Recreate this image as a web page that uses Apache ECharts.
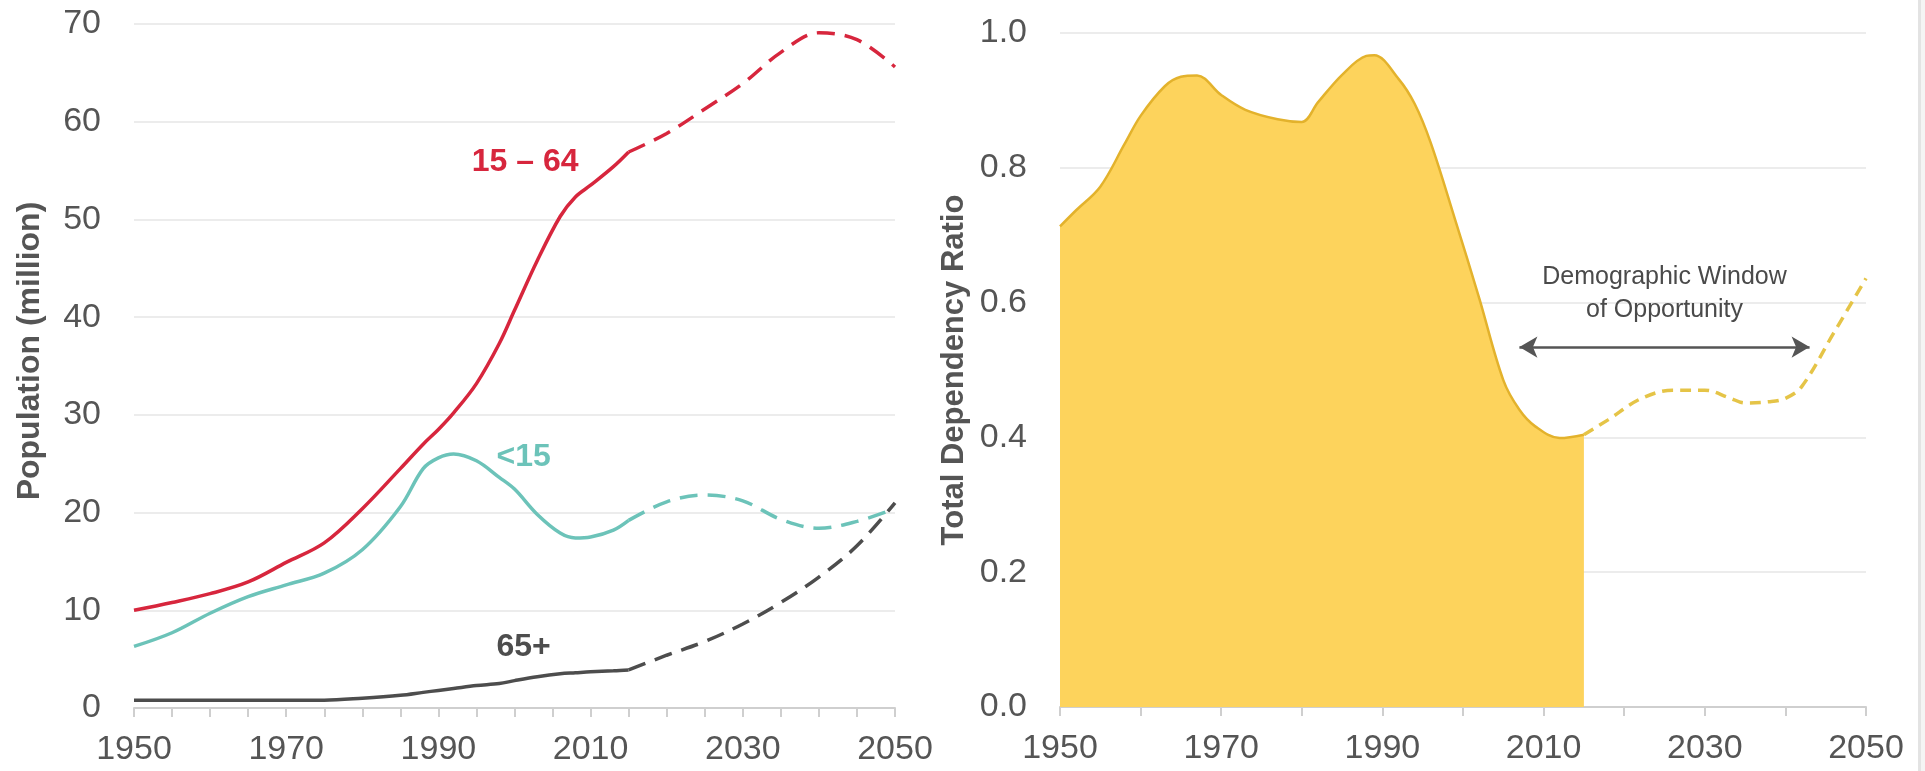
<!DOCTYPE html>
<html>
<head>
<meta charset="utf-8">
<title>Population and dependency ratio</title>
<script src="https://cdn.jsdelivr.net/npm/echarts@6/dist/echarts.min.js"></script>
<style>
    html, body { margin: 0; padding: 0; background: #fff; }
    #main { width: 1925px; height: 771px; }
</style>
</head>
<body>
<div id="main"></div>
<script>
// population by age group, million (solid = estimates, dashed = projection)
var popHistYears = [1950,1955,1960,1965,1970,1975,1980,1985,1988,1990,1992,1995,1998,2000,2003,2006,2008,2010,2013,2015];
var popProjYears = [2015,2020,2025,2030,2035,2040,2045,2050];

var workHist  = [10.0,10.8,11.7,12.9,14.9,16.9,20.4,24.5,27.0,28.5,30.2,33.2,37.3,40.7,45.8,50.3,52.3,53.5,55.4,56.9];
var workProj  = [56.9,58.8,61.3,63.9,67.1,69.1,68.4,65.6];
var childHist = [6.3,7.7,9.7,11.4,12.6,13.8,16.2,20.6,24.5,25.6,26.0,25.3,23.6,22.4,19.8,17.9,17.4,17.5,18.2,19.2];
var childProj = [19.2,21.1,21.8,21.2,19.3,18.4,19.1,20.4];
var oldHist   = [0.8,0.8,0.8,0.8,0.8,0.8,1.0,1.3,1.6,1.8,2.0,2.3,2.5,2.8,3.2,3.5,3.6,3.7,3.8,3.9];
var oldProj   = [3.9,5.4,6.8,8.6,10.8,13.4,16.6,21.0];

// total dependency ratio
var ratioHistYears = [1950,1952,1955,1958,1960,1963,1965,1967,1970,1973,1977,1980,1982,1985,1988,1989,1992,1994,1996,1999,2002,2005,2007,2009,2012,2015];
var ratioHist      = [0.713,0.737,0.772,0.835,0.877,0.921,0.935,0.937,0.908,0.886,0.872,0.868,0.897,0.938,0.966,0.967,0.932,0.895,0.837,0.724,0.607,0.485,0.441,0.416,0.399,0.404];
var ratioProjYears = [2015,2018,2022,2026,2030,2033,2035,2038,2040,2042,2046,2050];
var ratioProj      = [0.404,0.426,0.457,0.470,0.470,0.459,0.451,0.453,0.458,0.475,0.555,0.636];

var windowYears = [2007, 2043];
var windowLevel = 0.534;

function pair(xs, ys) {
    var out = [];
    for (var i = 0; i < xs.length; i++) {
        out.push([xs[i], ys[i]]);
    }
    return out;
}

var normalFont = "'Liberation Sans',Arial,sans-serif";
var textGray = '#555555';

function xAxisFor(gridIdx, minorSplit) {
    return {
        type: 'value',
        gridIndex: gridIdx,
        min: 1950,
        max: 2050,
        interval: 20,
        axisLine: { show: true, lineStyle: { color: '#cfcfcf', width: 2 } },
        axisTick: { show: true, length: 9, lineStyle: { color: '#cfcfcf', width: 2 } },
        minorTick: { show: true, splitNumber: minorSplit, length: 9, lineStyle: { color: '#cfcfcf', width: 2 } },
        splitLine: { show: false },
        axisLabel: {
            color: textGray,
            fontFamily: normalFont,
            fontSize: 34,
            margin: 25,
            formatter: function (v) { return String(v); }
        }
    };
}

function lineSeries(name, data, color, dashed, xi, yi) {
    return {
        name: name,
        type: 'line',
        xAxisIndex: xi,
        yAxisIndex: yi,
        data: data,
        smooth: 0.35,
        showSymbol: false,
        silent: true,
        lineStyle: {
            color: color,
            width: 3.5,
            type: dashed ? [18, 10] : 'solid'
        },
        z: 3
    };
}

var myChart = echarts.init(document.getElementById('main'));

var option = {
    backgroundColor: '#ffffff',
    animation: false,
    grid: [
        { left: 134, right: 1030, top: 24, bottom: 63 },
        { left: 1060, right: 59, top: 33, bottom: 64 }
    ],
    xAxis: [ xAxisFor(0, 4), xAxisFor(1, 2) ],
    yAxis: [
        {
            type: 'value',
            gridIndex: 0,
            min: 0,
            max: 70,
            interval: 10,
            name: 'Population (million)',
            nameLocation: 'middle',
            nameRotate: 90,
            nameGap: 88,
            nameTextStyle: { color: textGray, fontFamily: normalFont, fontWeight: 'bold', fontSize: 32, padding: [0, 0, 0, 30] },
            axisLine: { show: false },
            axisTick: { show: false },
            splitLine: { show: true, lineStyle: { color: '#ececec', width: 2 } },
            axisLabel: { color: textGray, fontFamily: normalFont, fontSize: 34, margin: 33 }
        },
        {
            type: 'value',
            gridIndex: 1,
            min: 0,
            max: 1,
            interval: 0.2,
            name: 'Total Dependency Ratio',
            nameLocation: 'middle',
            nameRotate: 90,
            nameGap: 90,
            nameTextStyle: { color: textGray, fontFamily: normalFont, fontWeight: 'bold', fontSize: 31 },
            axisLine: { show: false },
            axisTick: { show: false },
            splitLine: { show: true, lineStyle: { color: '#ececec', width: 2 } },
            axisLabel: {
                color: textGray,
                fontFamily: normalFont,
                fontSize: 34,
                margin: 33,
                formatter: function (v) { return v.toFixed(1); }
            }
        }
    ],
    series: [
        lineSeries('15 – 64', pair(popHistYears, workHist), '#D7263D', false, 0, 0),
        lineSeries('15 – 64 projection', pair(popProjYears, workProj), '#D7263D', true, 0, 0),
        lineSeries('<15', pair(popHistYears, childHist), '#6CC3B9', false, 0, 0),
        lineSeries('<15 projection', pair(popProjYears, childProj), '#6CC3B9', true, 0, 0),
        lineSeries('65+', pair(popHistYears, oldHist), '#4D4D4D', false, 0, 0),
        lineSeries('65+ projection', pair(popProjYears, oldProj), '#4D4D4D', true, 0, 0),
        {
            name: 'Total Dependency Ratio',
            type: 'line',
            xAxisIndex: 1,
            yAxisIndex: 1,
            data: pair(ratioHistYears, ratioHist),
            smooth: 0.35,
            showSymbol: false,
            silent: true,
            lineStyle: { color: '#E3B22C', width: 2.5 },
            areaStyle: { color: '#FDD35C', opacity: 1 },
            z: 2
        },
        {
            name: 'Total Dependency Ratio projection',
            type: 'line',
            xAxisIndex: 1,
            yAxisIndex: 1,
            data: pair(ratioProjYears, ratioProj),
            smooth: 0.35,
            showSymbol: false,
            silent: true,
            lineStyle: { color: '#E5C447', width: 3.5, type: [11, 7] },
            markLine: {
                silent: true,
                symbol: ['arrow', 'arrow'],
                symbolSize: [16, 18],
                lineStyle: { color: '#555555', width: 2.5, type: 'solid' },
                label: {
                    show: true,
                    position: 'middle',
                    distance: 20,
                    formatter: 'Demographic Window\nof Opportunity',
                    color: '#4a4a4a',
                    fontFamily: normalFont,
                    fontSize: 25,
                    lineHeight: 33,
                    align: 'center'
                },
                data: [
                    [ { coord: [windowYears[0], windowLevel] }, { coord: [windowYears[1], windowLevel] } ]
                ]
            },
            z: 3
        }
    ]
};
myChart.setOption(option);

// in-chart series labels, placed in data space
var seriesTags = [
    { text: '15 – 64', at: [2001.4, 55.9], color: '#D7263D' },
    { text: '<15', at: [2001.2, 25.7], color: '#6CC3B9' },
    { text: '65+', at: [2001.2, 6.2], color: '#4D4D4D' }
];
var graphics = [];
for (var i = 0; i < seriesTags.length; i++) {
    var p = myChart.convertToPixel({ gridIndex: 0 }, seriesTags[i].at);
    graphics.push({
        type: 'text',
        x: p[0],
        y: p[1],
        silent: true,
        style: {
            text: seriesTags[i].text,
            fill: seriesTags[i].color,
            font: 'bold 32px ' + normalFont,
            align: 'center',
            verticalAlign: 'middle'
        }
    });
}
// thin frame edge on the far right
graphics.push({ type: 'rect', shape: { x: 1918, y: 0, width: 3, height: 771 }, style: { fill: '#e3e3e3' }, silent: true });
graphics.push({ type: 'rect', shape: { x: 1921, y: 0, width: 4, height: 771 }, style: { fill: '#f4f4f4' }, silent: true });
myChart.setOption({ graphic: graphics });
</script>
</body>
</html>
